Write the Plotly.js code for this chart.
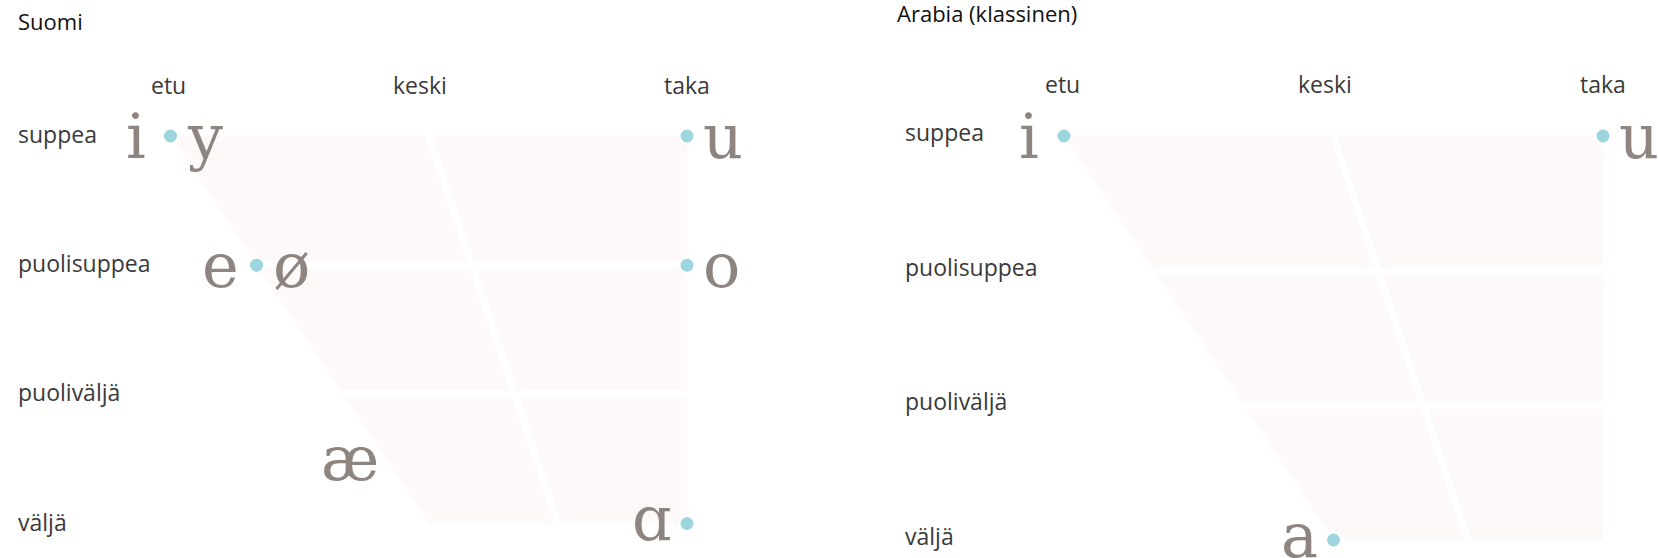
<!DOCTYPE html>
<html><head><meta charset="utf-8">
<script src="https://cdn.plot.ly/plotly-3.0.1.min.js"></script>
<style>html,body{margin:0;padding:0;background:#fff;} #chart{width:1658px;height:558px;}</style>
</head><body><div id="chart"></div>
<script>
// ---- data ----
const panelTitles = ['Suomi', 'Arabia (klassinen)'];
const rowLabels = ['suppea', 'puolisuppea', 'puoliväljä', 'väljä'];
const rowHeights = [0, 1, 2, 3];
const colLabels = ['etu', 'keski', 'taka'];
const colBackness = [0, 1, 2];

// Finnish vowels: height (0 = close ... 3 = open), backness (0 front, 1 central, 2 back)
const fiVowels = ['i', 'y', 'e', 'ø', 'æ', 'u', 'o', 'ɑ'];
const fiHeight = [0, 0, 1, 1, 2.5, 0, 1, 3];
const fiBackness = [0, 0, 0, 0, 0, 2, 2, 2];
const fiRounded = [0, 1, 0, 1, 0, 1, 1, 0];
const fiHasDot = [1, 1, 1, 1, 0, 1, 1, 1];

// Classical Arabic vowels
const arVowels = ['i', 'u', 'a'];
const arHeight = [0, 0, 3];
const arBackness = [0, 2, 0];
const arRounded = [0, 1, 0];
const arHasDot = [1, 1, 1];

// ---- styles ----
const FILL = '#fcf9f8';
const DOT = '#9dd5de';
const LETTER = '#8e8581';
const LABEL = '#3a3a3a';
const TITLE = '#111111';
const SANS = '"Open Sans", sans-serif';
const SERIF = '"DejaVu Serif", serif';
const GLYPH_NUDGE = {'i': -7, 'ɑ': 3, 'a': 2, 'æ': 3};   // side-bearing compensation (px)
const COL_NUDGE = [-2, -9, 0];                           // label optical centring (px)

// position in the vowel trapezoid: front edge slants from 0 (close) to 1 (open)
function vx(h, b) { const f = h / 3; return f + b * (2 - f) / 2; }

const panels = [
  {v: fiVowels, h: fiHeight, b: fiBackness, r: fiRounded, d: fiHasDot, xa: 'x', ya: 'y',
   rowX: 16 / 1658, rowShift: 2, title: panelTitles[0], titleX: 16 / 1658, titleY: 1 - 21 / 558, colY: 1 - 85 / 558},
  {v: arVowels, h: arHeight, b: arBackness, r: arRounded, d: arHasDot, xa: 'x2', ya: 'y2',
   rowX: 903 / 1658, rowShift: 4, title: panelTitles[1], titleX: 895 / 1658, titleY: 1 - 13 / 558, colY: 1 - 84 / 558}
];

const traces = [];
const annotations = [];

panels.forEach(p => {
  const hMin = rowHeights[0], hMax = rowHeights[rowHeights.length - 1];
  const bMin = colBackness[0], bMax = colBackness[colBackness.length - 1];
  const bMid = colBackness[1];
  // trapezoid fill
  traces.push({
    type: 'scatter', mode: 'lines', xaxis: p.xa, yaxis: p.ya, hoverinfo: 'skip',
    x: [vx(hMin, bMin), vx(hMin, bMax), vx(hMax, bMax), vx(hMax, bMin), vx(hMin, bMin)],
    y: [hMin, hMin, hMax, hMax, hMin],
    fill: 'toself', fillcolor: FILL, line: {width: 0, color: FILL}
  });
  // white separators
  const lx = [], ly = [];
  rowHeights.slice(1, -1).forEach(h => { lx.push(vx(h, bMin), vx(h, bMax), null); ly.push(h, h, null); });
  lx.push(vx(hMin, bMid), vx(hMax, bMid)); ly.push(hMin, hMax);
  traces.push({
    type: 'scatter', mode: 'lines', xaxis: p.xa, yaxis: p.ya, hoverinfo: 'skip',
    x: lx, y: ly, line: {color: '#ffffff', width: 7}, connectgaps: false
  });
  // dots
  const dx = [], dy = [];
  p.v.forEach((_, i) => { if (p.d[i]) { dx.push(vx(p.h[i], p.b[i])); dy.push(p.h[i]); } });
  traces.push({
    type: 'scatter', mode: 'markers', xaxis: p.xa, yaxis: p.ya, hoverinfo: 'skip', cliponaxis: false,
    x: dx, y: dy, marker: {size: 15, color: DOT, line: {color: '#ffffff', width: 2}}
  });
  // vowel letters
  p.v.forEach((ch, i) => {
    const right = !!p.r[i];
    const base = p.d[i] ? (right ? 14 : -16) : -8;
    annotations.push({
      xref: p.xa, yref: p.ya, x: vx(p.h[i], p.b[i]), y: p.h[i], text: ch, showarrow: false,
      xanchor: right ? 'left' : 'right', yanchor: 'middle',
      xshift: base + (GLYPH_NUDGE[ch] || 0),
      yshift: p.h[i] >= hMax ? 5 : 0,
      font: {family: SERIF, size: 62, color: LETTER}
    });
  });
  // row labels
  rowLabels.forEach((t, i) => annotations.push({
    xref: 'paper', yref: p.ya, x: p.rowX, y: rowHeights[i], text: t, showarrow: false,
    xanchor: 'left', yanchor: 'middle', yshift: p.rowShift, font: {family: SANS, size: 23, color: LABEL}
  }));
  // column labels
  colLabels.forEach((t, i) => annotations.push({
    xref: p.xa, yref: 'paper', x: colBackness[i], y: p.colY, text: t, showarrow: false,
    xanchor: 'center', yanchor: 'middle', xshift: COL_NUDGE[i], font: {family: SANS, size: 23, color: LABEL}
  }));
  // panel title
  annotations.push({
    xref: 'paper', yref: 'paper', x: p.titleX, y: p.titleY, text: p.title, showarrow: false,
    xanchor: 'left', yanchor: 'middle', font: {family: SANS, size: 22, color: TITLE}
  });
});

const ax = {visible: false, showgrid: false, zeroline: false, fixedrange: true};
const layout = {
  width: 1658, height: 558,
  margin: {l: 0, r: 0, t: 0, b: 0, pad: 0},
  paper_bgcolor: '#ffffff', plot_bgcolor: 'rgba(0,0,0,0)',
  showlegend: false,
  xaxis: Object.assign({}, ax, {domain: [0, 0.5], range: [-0.66022, 2.54985]}),
  yaxis: Object.assign({}, ax, {domain: [0, 1], range: [3.2671, -1.0529]}),
  xaxis2: Object.assign({}, ax, {domain: [0.5, 1], range: [-0.87199, 2.20408]}),
  yaxis2: Object.assign({}, ax, {domain: [0, 1], range: [3.13366, -1.00990]}),
  annotations: annotations
};

Plotly.newPlot('chart', traces, layout, {displayModeBar: false, staticPlot: true});
</script>
</body></html>
